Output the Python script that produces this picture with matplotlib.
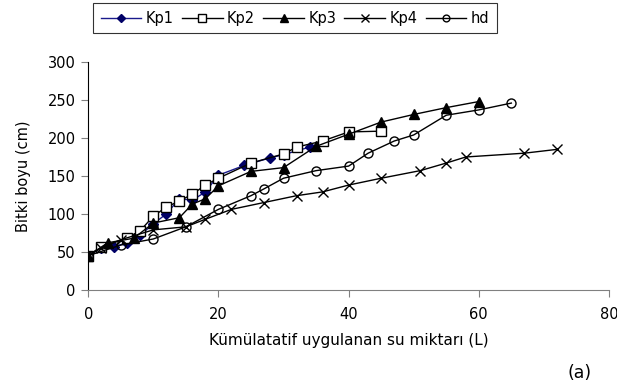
import matplotlib
matplotlib.use("Agg")
import matplotlib.pyplot as plt

plt.rcParams['font.family'] = ['DejaVu Sans']

# veriler
kp1_x = [0, 2, 4, 6, 8, 10, 12, 14, 16, 18, 20, 24, 28, 30, 34]
kp1_y = [45, 55, 57, 62, 72, 87, 100, 120, 118, 129, 151, 164, 174, 178, 188]

kp2_x = [0, 2, 6, 8, 10, 12, 14, 16, 18, 20, 25, 30, 32, 36, 40, 45]
kp2_y = [45, 57, 68, 78, 97, 109, 117, 126, 138, 147, 167, 179, 188, 196, 208, 209]

kp3_x = [0, 3, 7, 10, 14, 16, 18, 20, 25, 30, 35, 40, 45, 50, 55, 60]
kp3_y = [45, 62, 68, 88, 95, 113, 120, 137, 156, 161, 189, 205, 221, 231, 240, 248]

kp4_x = [0, 2, 5, 10, 15, 18, 22, 27, 32, 36, 40, 45, 51, 55, 58, 67, 72]
kp4_y = [45, 55, 66, 79, 83, 93, 106, 115, 124, 129, 138, 147, 157, 167, 175, 180, 185]

hd_x = [0, 5, 10, 15, 20, 25, 27, 30, 35, 40, 43, 47, 50, 55, 60, 65]
hd_y = [45, 59, 67, 83, 106, 124, 133, 147, 157, 163, 180, 196, 204, 230, 237, 246]

fig = plt.figure(figsize=(6.17, 3.88), dpi=100)
ax = fig.add_axes([0.143, 0.253, 0.844, 0.587])

ax.plot(kp1_x, kp1_y, color='#1a1a8c', lw=1, marker='D', ms=5,
        mfc='#000066', mec='#000066', label='Kp1')
ax.plot(kp2_x, kp2_y, color='black', lw=1, marker='s', ms=7,
        mfc='white', mec='black', label='Kp2')
ax.plot(kp3_x, kp3_y, color='black', lw=1, marker='^', ms=7,
        mfc='black', mec='black', label='Kp3')
ax.plot(kp4_x, kp4_y, color='black', lw=1, marker='x', ms=7,
        mew=1, label='Kp4')
ax.plot(hd_x, hd_y, color='black', lw=1, marker='o', ms=6.5,
        mfc='none', mec='black', label='hd')

ax.set_xlim(0, 80)
ax.set_ylim(0, 300)
ax.set_xticks([0, 20, 40, 60, 80])
ax.set_yticks([0, 50, 100, 150, 200, 250, 300])

for s in ['top', 'right']:
    ax.spines[s].set_visible(False)
ax.spines['left'].set_color('black')
ax.spines['bottom'].set_color('#808080')
ax.tick_params(axis='both', direction='out', length=5, width=0.8,
               color='#808080', labelsize=10.5)
ax.tick_params(axis='y', pad=4)
ax.tick_params(axis='x', pad=7)

ax.set_xlabel('Kümülatatif uygulanan su miktarı (L)', fontsize=11, labelpad=8)
ax.set_ylabel('Bitki boyu (cm)', fontsize=10.5, labelpad=12)

leg = ax.legend(loc='upper center', bbox_to_anchor=(0.397, 1.29), ncol=5,
                frameon=True, fancybox=False, edgecolor='black', fontsize=10.5,
                handlelength=2.8, handletextpad=0.3, columnspacing=0.55,
                borderpad=0.5, markerscale=0.75)
leg.get_frame().set_linewidth(0.8)

fig.text(0.939, 0.015, '(a)', fontsize=12.5, family='DejaVu Sans',
         style='normal', ha='center', va='bottom')

fig.savefig('out.png', dpi=100)
